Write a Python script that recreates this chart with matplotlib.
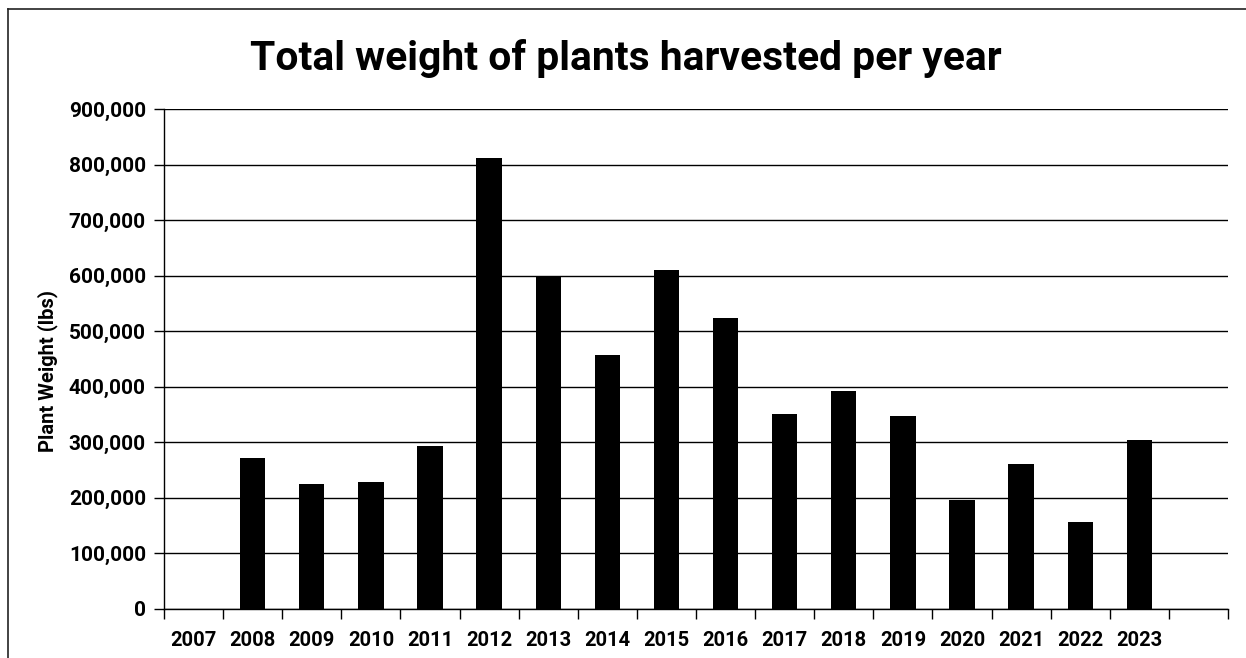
import matplotlib
matplotlib.use("Agg")
import matplotlib.pyplot as plt
from matplotlib.ticker import FuncFormatter, FixedLocator
from matplotlib.lines import Line2D

years = ["2007", "2008", "2009", "2010", "2011", "2012", "2013", "2014", "2015",
         "2016", "2017", "2018", "2019", "2020", "2021", "2022", "2023", ""]
weights = [0, 271000, 225000, 228000, 293000, 811000, 598000, 457000, 610000,
           523000, 350000, 392000, 346000, 195000, 260000, 156000, 304000, 0]
y_ticks = [0, 100000, 200000, 300000, 400000, 500000, 600000, 700000, 800000, 900000]

plt.rcParams["font.family"] = ["Roboto", "DejaVu Sans"]

W, H = 1246, 658
fig = plt.figure(figsize=(W / 100, H / 100), dpi=100)
ax = fig.add_axes([164 / W, 1 - 608.5 / H, (1228 - 164) / W, (608.5 - 109) / H])

x = list(range(len(years)))
ax.bar(x, weights, width=0.43, color="black", zorder=3)

ax.set_xlim(-0.5, len(years) - 0.5)
ax.set_ylim(0, 900000)

ax.set_yticks(y_ticks)
ax.yaxis.set_major_formatter(FuncFormatter(lambda v, p: f"{int(v):,}"))
ax.grid(axis="y", color="black", linewidth=1.0, zorder=1)
ax.tick_params(axis="y", length=7, width=1, color="black", pad=6,
               labelsize=15)
for lab in ax.get_yticklabels():
    lab.set_fontweight("bold")

ax.set_xticks(x)
ax.set_xticklabels(years, fontweight="bold", fontsize=14.5)
ax.xaxis.set_minor_locator(FixedLocator([i - 0.5 for i in range(len(years) + 1)]))
ax.tick_params(axis="x", which="major", length=0, pad=16)
ax.tick_params(axis="x", which="minor", length=7, width=1, color="black")

for side in ("top", "right"):
    ax.spines[side].set_visible(False)
ax.spines["left"].set_linewidth(1)
ax.spines["bottom"].set_linewidth(1)

ax.set_ylabel("Plant Weight (lbs)", fontweight="bold", fontsize=14.5)
ax.yaxis.set_label_coords(-106 / (1228 - 164), 0.475)

fig.text(626 / W, 1 - 70 / H, "Total weight of plants harvested per year",
         ha="center", va="baseline", fontsize=29.3, fontweight="bold")

# outer chart frame
fig.add_artist(Line2D([8 / W, 8 / W], [0, 1 - 9 / H], transform=fig.transFigure,
                      color="#222222", linewidth=1.2))
fig.add_artist(Line2D([8 / W, 1], [1 - 9 / H, 1 - 9 / H], transform=fig.transFigure,
                      color="#222222", linewidth=1.2))

fig.savefig("out.png", dpi=100, facecolor="white")
